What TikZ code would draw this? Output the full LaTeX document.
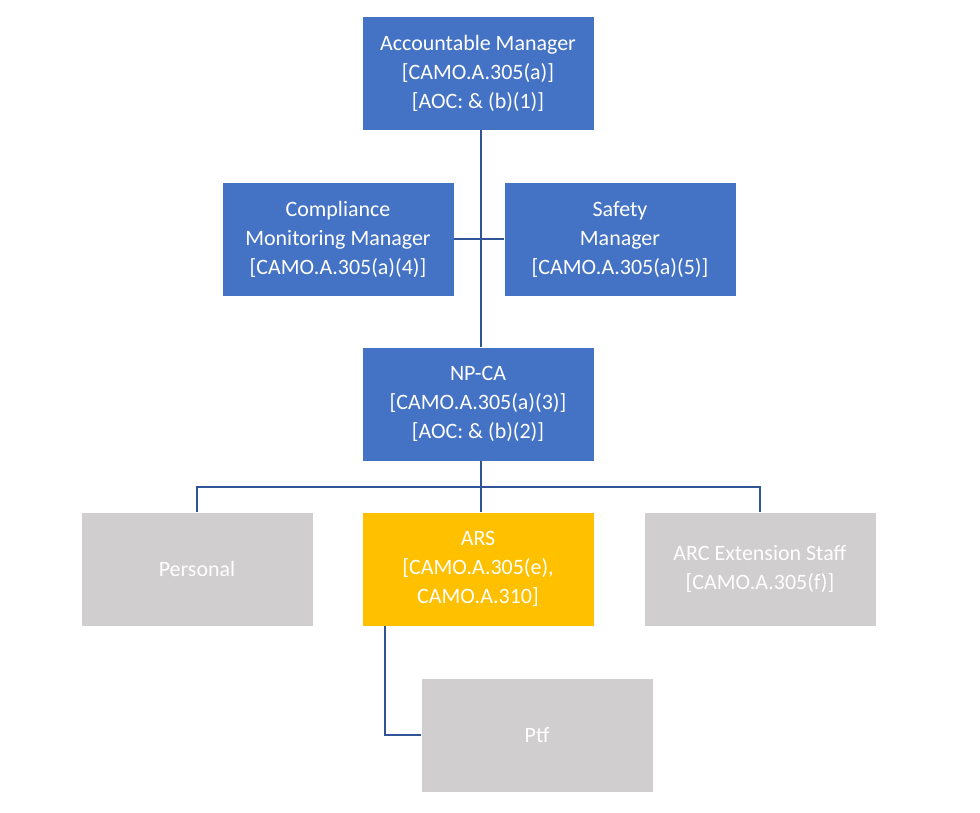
\documentclass[tikz,border=0pt]{standalone}
\usepackage{fontspec}
\setmainfont{Carlito}
\definecolor{bl}{HTML}{4472C4}
\definecolor{gr}{HTML}{D0CECE}
\definecolor{ye}{HTML}{FFC000}
\definecolor{ln}{HTML}{2F5597}
\begin{document}
\begin{tikzpicture}[x=0.02cm,y=-0.02cm,
  box/.style={draw=none,minimum width=231*0.02cm,minimum height=113*0.02cm,inner sep=0pt,
    text=white,align=center,font=\fontsize{12.5}{16.5}\selectfont},
  conn/.style={draw=ln,line width=1.3pt}]
\useasboundingbox (0,0) rectangle (980,812);
\node[box,fill=bl] (am) at (478,73) {Accountable Manager\\{[CAMO.A.305(a)]}\\{[AOC: \& (b)(1)]}};
\node[box,fill=bl] (cmm) at (338,239) {Compliance\\Monitoring Manager\\{[CAMO.A.305(a)(4)]}};
\node[box,fill=bl] (sm) at (620,239) {Safety\\Manager\\{[CAMO.A.305(a)(5)]}};
\node[box,fill=bl] (np) at (478,404) {NP-CA\\{[CAMO.A.305(a)(3)]}\\{[AOC: \& (b)(2)]}};
\node[box,fill=gr] (pe) at (197,569) {Personal};
\node[box,fill=ye] (ars) at (478,569) {ARS\\{[CAMO.A.305(e),}\\CAMO.A.310]};
\node[box,fill=gr] (arc) at (760,569) {ARC Extension Staff\\{[CAMO.A.305(f)]}};
\node[box,fill=gr] (ptf) at (537,735) {Ptf};
\coordinate (bus) at (481,487);
\coordinate (bend) at (385,735);
\draw[conn] (am.south -| bus) -- (np.north -| bus);
\draw[conn] (cmm.east) -- (sm.west);
\draw[conn] (np.south -| bus) -- (bus);
\draw[conn] (pe.north) -- (pe.north |- bus) -- (arc.north |- bus) -- (arc.north);
\draw[conn] (bus) -- (ars.north -| bus);
\draw[conn] (ars.south -| bend) -- (bend) -- (ptf.west);
\end{tikzpicture}
\end{document}
